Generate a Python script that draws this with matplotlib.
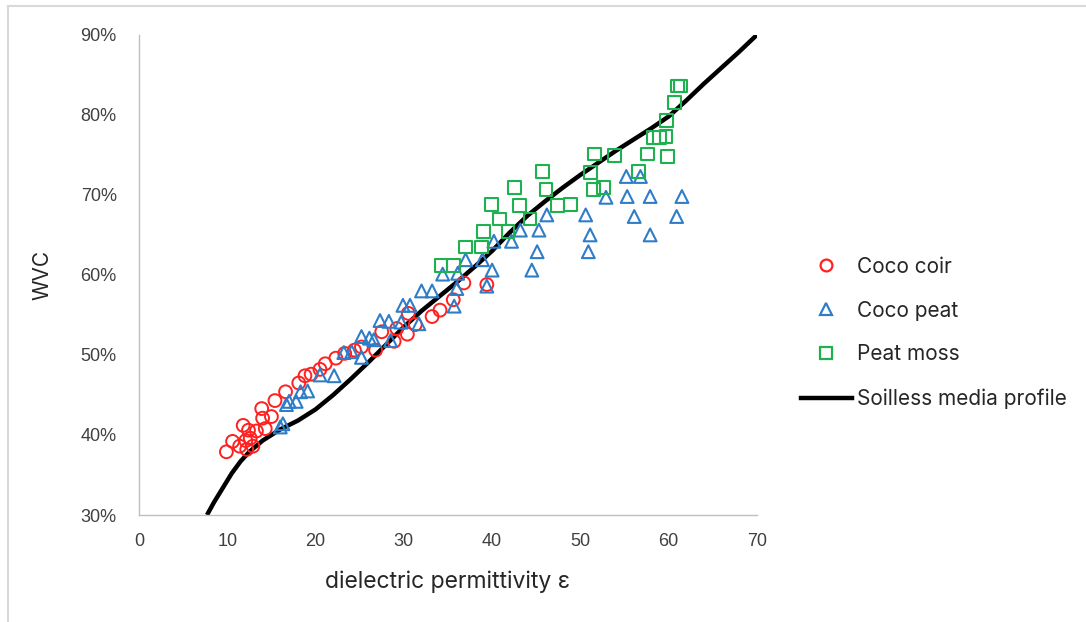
import matplotlib
matplotlib.use("Agg")
import matplotlib.pyplot as plt
from matplotlib.lines import Line2D

# ---- data ----
coir_x = [9.9, 10.6, 11.4, 11.8, 12.1, 12.2, 12.6, 12.9, 12.4, 13.3, 13.9, 14.0, 14.3, 15.0, 15.4,
          16.6, 18.1, 18.8, 19.5, 20.5, 21.1, 22.3, 23.3, 24.4, 25.2, 26.8, 27.5, 28.9, 29.2, 30.4,
          30.5, 31.3, 33.2, 34.1, 35.6, 36.8, 39.4]
coir_y = [37.9, 39.2, 38.6, 41.2, 39.3, 38.2, 39.6, 38.6, 40.6, 40.5, 43.3, 42.1, 40.8, 42.3, 44.3,
          45.4, 46.5, 47.4, 47.6, 48.2, 48.9, 49.6, 50.2, 50.6, 51.0, 50.6, 52.9, 51.7, 53.3, 52.6,
          55.2, 53.8, 54.8, 55.6, 56.9, 59.0, 58.8]

peat_x = [16.0, 16.3, 16.7, 17.0, 17.8, 18.3, 19.1, 20.5, 22.1, 23.2, 24.1, 25.2, 25.2, 26.1, 26.6,
          28.5, 27.3, 28.3, 29.7, 29.9, 30.7, 31.7, 32.0, 33.2, 34.4, 35.7, 36.0, 36.1, 37.0, 38.9,
          39.4, 40.0, 40.2, 42.2, 43.2, 44.5, 45.1, 45.3, 46.2, 50.6, 50.9, 51.1, 52.9, 55.3, 55.2,
          56.8, 56.1, 57.9, 57.9, 61.5, 60.9]
peat_y = [41.0, 41.4, 43.8, 44.2, 44.2, 45.4, 45.5, 47.5, 47.4, 50.3, 50.4, 49.7, 52.3, 52.1, 51.9,
          51.8, 54.3, 54.2, 54.1, 56.2, 56.2, 53.9, 58.0, 58.0, 60.1, 56.1, 58.3, 60.2, 61.9, 61.9,
          58.6, 60.6, 64.2, 64.2, 65.6, 60.6, 62.9, 65.6, 67.5, 67.5, 62.9, 65.0, 69.7, 69.8, 72.3,
          72.3, 67.3, 69.8, 65.0, 69.8, 67.3]

moss_x = [34.2, 35.6, 37.0, 38.8, 39.0, 39.9, 40.8, 41.8, 42.5, 43.1, 44.3, 45.7, 46.1, 47.4, 48.9,
          51.1, 51.6, 51.5, 52.6, 53.9, 56.6, 57.6, 59.9, 58.3, 59.0, 59.7, 59.8, 60.7, 61.0, 61.3]
moss_y = [61.2, 61.2, 63.5, 63.5, 65.4, 68.8, 67.0, 65.4, 70.9, 68.7, 67.0, 72.9, 70.7, 68.7, 68.8,
          72.8, 75.1, 70.7, 70.9, 74.9, 72.9, 75.1, 74.8, 77.2, 77.2, 77.3, 79.3, 81.5, 83.6, 83.6]

profile_x = [7.7, 8.5, 9.5, 10.5, 11.5, 12.5, 14, 16, 18, 20, 22, 24, 26, 28, 30, 32, 34, 36, 38,
             40, 42, 44, 46, 48, 50, 52, 54, 56, 58, 60, 62, 64, 66, 68, 70]
profile_y = [30.0, 31.6, 33.4, 35.2, 36.7, 37.9, 39.3, 40.7, 41.8, 43.2, 45.0, 47.0, 49.1, 51.3,
             53.5, 55.5, 57.3, 59.1, 61.0, 63.0, 65.3, 67.4, 69.2, 70.9, 72.5, 74.0, 75.5, 76.9,
             78.3, 79.8, 81.8, 83.9, 85.9, 87.9, 90.0]

x_ticks = [0, 10, 20, 30, 40, 50, 60, 70]
y_ticks = [30, 40, 50, 60, 70, 80, 90]
y_tick_labels = ["30%", "40%", "50%", "60%", "70%", "80%", "90%"]

# ---- plot ----
fig = plt.figure(figsize=(10.86, 6.22), dpi=100)
ax = fig.add_axes([0.128, 0.172, 0.569, 0.772])

red = "#FF2020"
blue = "#2F7DC8"
green = "#1DB24F"

ax.plot(profile_x, profile_y, color="black", lw=3.2, zorder=2, solid_capstyle="butt")
ax.scatter(coir_x, coir_y, s=85, facecolors="none", edgecolors=red, linewidths=1.4, marker="o", zorder=3)
ax.scatter(peat_x, peat_y, s=85, facecolors="none", edgecolors=blue, linewidths=1.5, marker="^", zorder=3)
ax.scatter(moss_x, moss_y, s=85, facecolors="none", edgecolors=green, linewidths=1.5, marker="s", zorder=3)

ax.set_xlim(0, 70)
ax.set_ylim(30, 90)
ax.set_xticks(x_ticks)
ax.set_yticks(y_ticks)
ax.set_yticklabels(y_tick_labels)
for s in ["top", "right"]:
    ax.spines[s].set_visible(False)
for s in ["left", "bottom"]:
    ax.spines[s].set_color("#BFBFBF")
    ax.spines[s].set_linewidth(1.0)
ax.tick_params(length=0, labelsize=13, labelcolor="#404040")
ax.tick_params(axis="x", pad=13)
ax.tick_params(axis="y", pad=16)
for lab in ax.get_xticklabels() + ax.get_yticklabels():
    lab.set_family("Liberation Sans")

ax.set_xlabel("dielectric permittivity ε", fontsize=16.5, family="Inter", color="#262626", labelpad=15)
ax.set_ylabel("WVC", fontsize=15, family="Inter", color="#262626", labelpad=20)

handles = [
    Line2D([], [], ls="none", marker="o", mfc="none", mec=red, ms=8.5, mew=1.6),
    Line2D([], [], ls="none", marker="^", mfc="none", mec=blue, ms=8.5, mew=1.6),
    Line2D([], [], ls="none", marker="s", mfc="none", mec=green, ms=8, mew=1.6),
    Line2D([], [], color="black", lw=3.2),
]
labels = ["Coco coir", "Coco peat", "Peat moss", "Soilless media profile"]
fig.legend(handles, labels, loc="center left", bbox_to_anchor=(0.72, 0.465), frameon=False,
           prop={"family": "Inter", "size": 15}, handlelength=2.45, handletextpad=0.25,
           labelspacing=1.15, labelcolor="#262626")

# figure frame (top and left)
fig.add_artist(Line2D([0.0075, 1.0], [0.99, 0.99], transform=fig.transFigure, color="#D9D9D9", lw=1.5))
fig.add_artist(Line2D([0.0075, 0.0075], [0.0, 0.99], transform=fig.transFigure, color="#D9D9D9", lw=1.5))

fig.savefig("out.png", dpi=100, facecolor="white")
